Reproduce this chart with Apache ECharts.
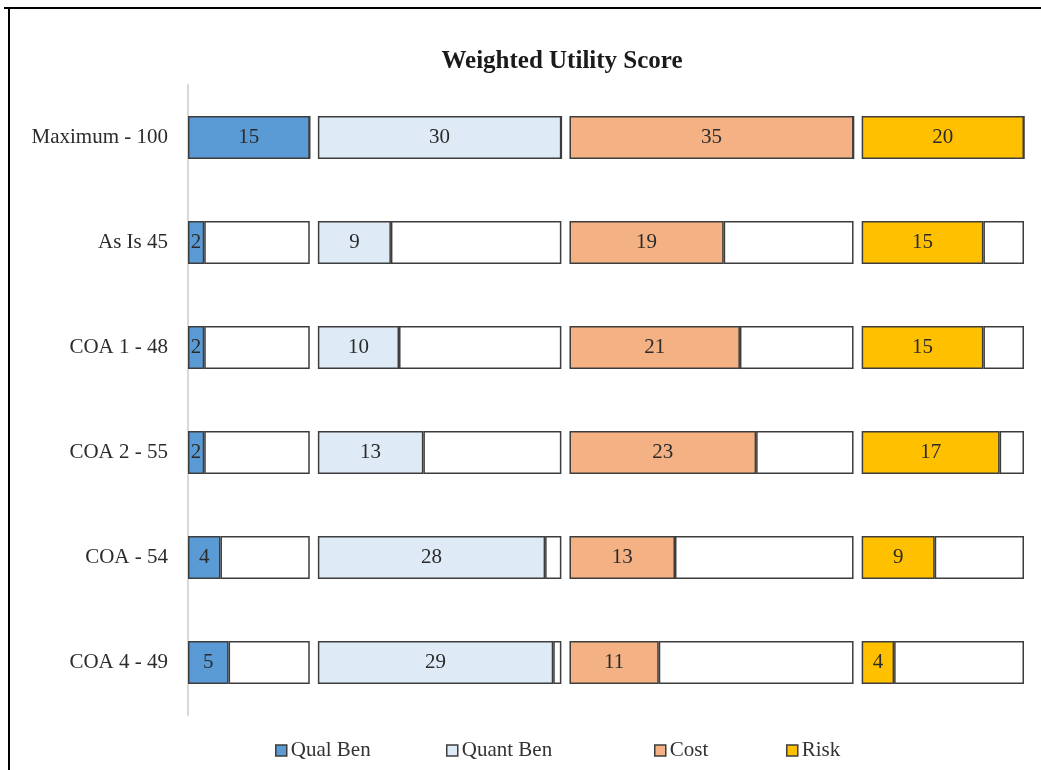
<!DOCTYPE html>
<html>
<head>
<meta charset="utf-8">
<title>Weighted Utility Score</title>
<script src="https://cdn.jsdelivr.net/npm/echarts@6/dist/echarts.min.js"></script>
<style>
  html, body { margin: 0; padding: 0; background: #ffffff; }
  #chart { width: 1041px; height: 770px; }
</style>
</head>
<body>
<div id="chart"></div>
<script>
// Rows, top to bottom
const categories = ['Maximum - 100', 'As Is 45', 'COA 1 - 48', 'COA 2 - 55', 'COA - 54', 'COA 4 - 49'];

// Weighted scores per criterion
const qualBen  = [15, 2, 2, 2, 4, 5];
const quantBen = [30, 9, 10, 13, 28, 29];
const cost     = [35, 19, 21, 23, 13, 11];
const risk     = [20, 15, 15, 17, 9, 4];

// Maximum attainable weight of each criterion (width of each block)
const caps = { qual: 15, quant: 30, cost: 35, risk: 20 };
// Empty spacing between blocks, in score units
const spacer = 1;

const FONT = '"Liberation Serif", "Times New Roman", serif';
const BORDER = '#3d3d3d';
const colors = { qual: '#5B9BD5', quant: '#DEEBF7', cost: '#F4B183', risk: '#FFC000' };

function filled(name, data, color) {
  return {
    name: name, type: 'bar', stack: 'total', data: data, barWidth: 43,
    itemStyle: { color: color, borderColor: BORDER, borderWidth: 1.5 },
    label: {
      show: true, position: 'inside', color: '#2b2b2b',
      fontFamily: FONT, fontSize: 21
    },
    emphasis: { disabled: true }
  };
}
function rest(name, data, cap) {
  return {
    name: name, type: 'bar', stack: 'total', barWidth: 43,
    data: data.map(v => cap - v),
    itemStyle: { color: '#ffffff', borderColor: BORDER, borderWidth: 1.5 },
    label: { show: false }, silent: true,
    emphasis: { disabled: true }
  };
}
function gap(name) {
  return {
    name: name, type: 'bar', stack: 'total', barWidth: 43,
    data: categories.map(() => spacer),
    itemStyle: { color: 'transparent', borderWidth: 0 },
    label: { show: false }, silent: true,
    emphasis: { disabled: true }
  };
}

function legendAt(name, left) {
  return {
    data: [name], left: left, top: 735,
    icon: 'rect', itemWidth: 11, itemHeight: 11, itemGap: 5,
    itemStyle: { borderColor: BORDER, borderWidth: 1.5 },
    textStyle: { fontFamily: FONT, fontSize: 21, color: '#333333', padding: [0, 0, 0, -1] },
    selectedMode: false
  };
}

const chart = echarts.init(document.getElementById('chart'), null, { renderer: 'canvas' });
chart.setOption({
  animation: false,
  backgroundColor: '#ffffff',
  title: {
    text: 'Weighted Utility Score',
    left: 557, top: 44, textAlign: 'center',
    textStyle: { fontFamily: FONT, fontSize: 25, fontWeight: 'bold', color: '#1a1a1a' }
  },
  legend: [
    legendAt('Qual Ben', 270),
    legendAt('Quant Ben', 441),
    legendAt('Cost', 649),
    legendAt('Risk', 781)
  ],
  grid: { left: 188, right: 17, top: 85, bottom: 55, containLabel: false },
  xAxis: {
    type: 'value', min: 0, max: 100 + 3 * spacer,
    show: false, splitLine: { show: false }
  },
  yAxis: {
    type: 'category', data: categories, inverse: true,
    axisLine: { show: true, lineStyle: { color: '#d9d9d9', width: 2 } },
    axisTick: { show: false },
    axisLabel: { fontFamily: FONT, fontSize: 21, color: '#2b2b2b', margin: 20 }
  },
  graphic: [
    { type: 'line', shape: { x1: 4, y1: 8, x2: 1041, y2: 8 }, style: { stroke: '#000000', lineWidth: 2 } },
    { type: 'line', shape: { x1: 9, y1: 8, x2: 9, y2: 770 }, style: { stroke: '#000000', lineWidth: 2 } }
  ],
  series: [
    filled('Qual Ben', qualBen, colors.qual),
    rest('Qual Ben rest', qualBen, caps.qual),
    gap('gap 1'),
    filled('Quant Ben', quantBen, colors.quant),
    rest('Quant Ben rest', quantBen, caps.quant),
    gap('gap 2'),
    filled('Cost', cost, colors.cost),
    rest('Cost rest', cost, caps.cost),
    gap('gap 3'),
    filled('Risk', risk, colors.risk),
    rest('Risk rest', risk, caps.risk)
  ]
});
</script>
</body>
</html>
